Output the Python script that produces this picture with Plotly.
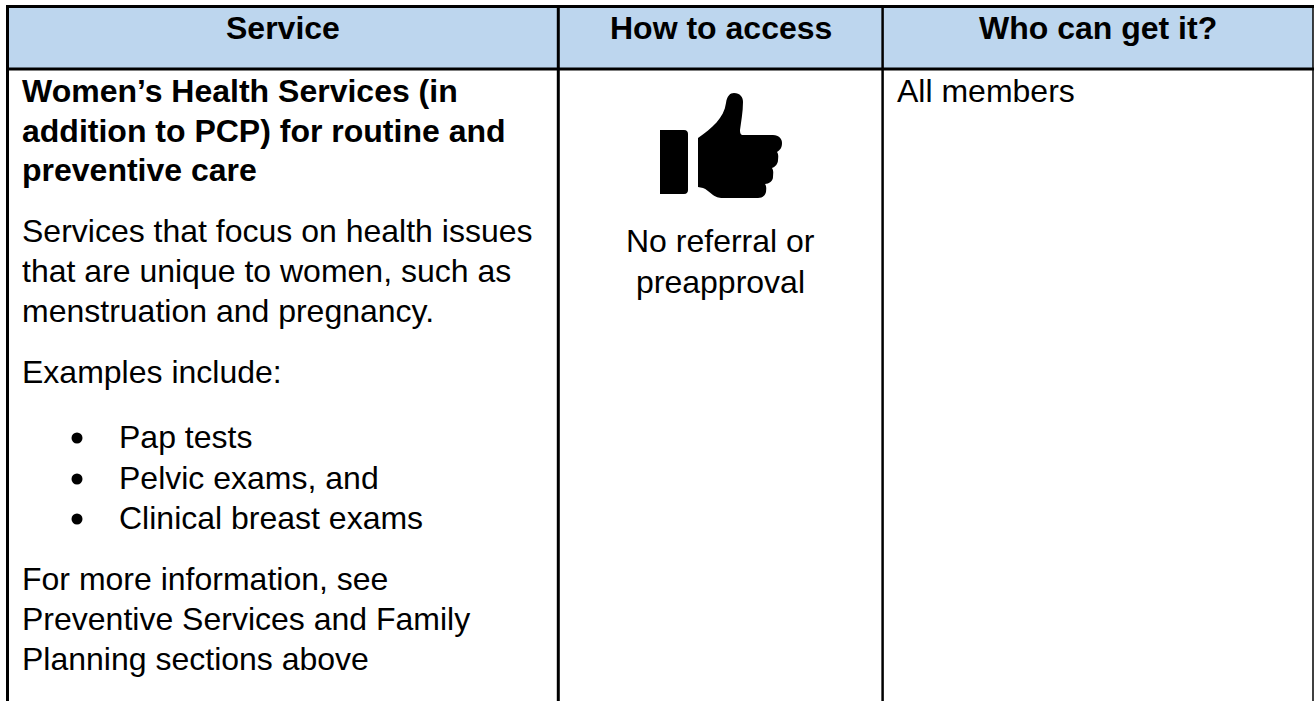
import plotly.graph_objects as go

FONT = "Liberation Sans"
headers = ["Service", "How to access", "Who can get it?"]
header_fill = "#bdd6ee"
service_title = ["Women’s Health Services (in", "addition to PCP) for routine and", "preventive care"]
service_body = ["Services that focus on health issues", "that are unique to women, such as", "menstruation and pregnancy."]
examples_intro = ["Examples include:"]
examples = ["Pap tests", "Pelvic exams, and", "Clinical breast exams"]
more_info = ["For more information, see", "Preventive Services and Family", "Planning sections above"]
access_text = ["No referral or", "preapproval"]
who_text = ["All members"]

thumb_hand = ("M698,138 C712,128 724,118 726,103 C727,96 730,93 734,93 C740,93 743,97 743,102 "
              "C743,112 741,122 740,130 C740,134 741,135 743,135 L773,135 C779,135 782,139 782,143 "
              "C782,148 780,150 777,152 C779,155 778,158 778,160 C778,164 775,167 772,168 "
              "C774,171 773,174 773,177 C773,181 769,184 765,184 C767,187 766,190 766,192 "
              "C765,196 762,198 758,198 L723,198 C718,198 716,197 713,195 C709,192 706,189 703,188 L698,187 Z")
thumb_cuff = "M660,130 L684,130 C687,130 688,132 688,134 L688,190 C688,192 687,194 684,194 L660,194 Z"

fig = go.Figure()
shapes = [
    dict(type="rect", x0=8, x1=1313, y0=7, y1=69, fillcolor=header_fill, line_width=0, layer="below"),
]
for x0, y0, x1, y1, w in [
    (6, 6.5, 1314, 6.5, 3), (6, 69, 1314, 69, 3),
    (7.5, 5, 7.5, 701, 3), (558.3, 5, 558.3, 701, 3), (882.6, 5, 882.6, 701, 2.5), (1313, 5, 1313, 701, 1.5),
]:
    shapes.append(dict(type="line", x0=x0, x1=x1, y0=y0, y1=y1, line=dict(color="#000000", width=w)))
shapes.append(dict(type="path", path=thumb_hand, fillcolor="#000000", line_width=0))
shapes.append(dict(type="path", path=thumb_cuff, fillcolor="#000000", line_width=0))

SIZE = 32
ann = []
def put(t, x, y, bold=False, anchor="left", size=SIZE):
    s = f"<b>{t}</b>" if bold else t
    ann.append(dict(text=s, x=x, y=y, xref="x", yref="y", showarrow=False, xanchor=anchor, yanchor="middle",
                    font=dict(family=FONT, size=size, color="#000000")))

for t, x in zip(headers, [282.5, 720.5, 1098]):
    put(t, x, 27.5, True, "center")
for t, y in zip(service_title, [91, 130.5, 170]):
    put(t, 20, y, True)
for t, y in zip(service_body, [231, 271, 311]):
    put(t, 20, y)
put(examples_intro[0], 20, 372)
ey = [437, 478, 518]
for t, y in zip(examples, ey):
    put(t, 116.5, y)
for t, y in zip(more_info, [579, 619, 659]):
    put(t, 20, y)
for t, y in zip(access_text, [241, 281.5]):
    put(t, 720.5, y, False, "center")
put(who_text[0], 895, 91)

fig.add_trace(go.Scatter(x=[77, 77, 77], y=[y + 1 for y in ey], mode="markers",
                         marker=dict(color="#000000", size=11), hoverinfo="skip"))
fig.update_layout(width=1314, height=701, margin=dict(l=0, r=0, t=0, b=0), paper_bgcolor="#fff", plot_bgcolor="#fff",
                  showlegend=False, shapes=shapes, annotations=ann,
                  xaxis=dict(range=[0, 1314], visible=False, fixedrange=True),
                  yaxis=dict(range=[701, 0], visible=False, fixedrange=True))
fig.write_html("out.html", config=dict(displayModeBar=False),
               post_script="document.body.style.margin='0';document.documentElement.style.overflow='hidden';")
